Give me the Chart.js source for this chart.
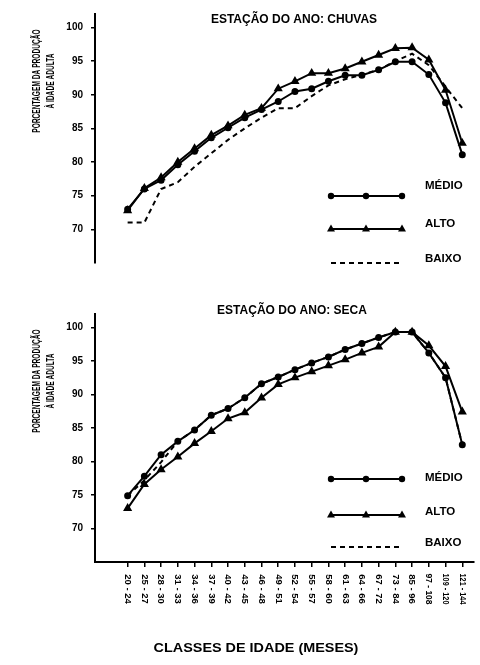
<!DOCTYPE html>
<html>
<head>
<meta charset="utf-8">
<script src="https://cdn.jsdelivr.net/npm/chart.js@4"></script>
<style>
html, body { margin: 0; padding: 0; background: #fff; }
#wrap { position: relative; width: 480px; height: 665px; overflow: hidden; }
#c1 { position: absolute; left: 0; top: 0; }
#c2 { position: absolute; left: 0; top: 300px; }
</style>
</head>
<body>
<div id="wrap">
  <canvas id="c1" width="480" height="300" style="width:480px;height:300px"></canvas>
  <canvas id="c2" width="480" height="365" style="width:480px;height:365px"></canvas>
</div>
<script>
// classes de idade (meses)
const classes = ["20 - 24", "25 - 27", "28 - 30", "31 - 33", "34 - 36", "37 - 39", "40 - 42",
  "43 - 45", "46 - 48", "49 - 51", "52 - 54", "55 - 57", "58 - 60", "61 - 63", "64 - 66",
  "67 - 72", "73 - 84", "85 - 96", "97 - 108", "109 - 120", "121 - 144"];
const yTicks = [70, 75, 80, 85, 90, 95, 100];

// estação chuvosa
const chuvasMedio = [73.0, 76.0, 77.3, 79.6, 81.6, 83.6, 85.1, 86.6, 87.8, 89.0, 90.5, 90.9, 92.0, 92.9, 92.9, 93.7, 94.9, 94.9, 93.0, 88.8, 81.1];
const chuvasAlto  = [72.8, 76.1, 77.7, 80.0, 82.0, 84.0, 85.4, 87.0, 88.0, 90.9, 92.0, 93.2, 93.2, 93.9, 94.9, 95.9, 96.9, 97.0, 95.2, 90.7, 82.8];
const chuvasBaixo = [71.0, 71.0, 76.0, 77.0, 79.3, 81.3, 83.3, 85.0, 86.6, 88.0, 88.0, 89.8, 91.4, 92.3, 93.0, 93.7, 95.0, 96.1, 94.4, 91.2, 88.0];

// estação seca
const secaMedio = [74.9, 77.8, 81.0, 83.0, 84.7, 86.9, 87.9, 89.5, 91.6, 92.6, 93.7, 94.7, 95.6, 96.7, 97.6, 98.5, 99.3, 99.3, 96.2, 92.5, 82.5];
const secaAlto  = [73.0, 76.6, 78.8, 80.7, 82.7, 84.5, 86.4, 87.3, 89.5, 91.5, 92.5, 93.4, 94.3, 95.2, 96.2, 97.1, 99.3, 99.3, 97.3, 94.2, 87.4];
const secaBaixo = [74.9, 77.2, 79.9, 83.0, 84.7, 86.9, 87.9, 89.5, 91.6, 92.6, 93.7, 94.7, 95.6, 96.7, 97.6, 98.5, 99.3, 99.3, 96.2, 92.5, 82.5];

const FONT = "'Liberation Sans', Arial, Helvetica, sans-serif";

function pts(arr) {
  return arr.map((v, i) => ({ x: i, y: v }));
}

function makeDatasets(medio, alto, baixo) {
  return [
    { label: "BAIXO", data: pts(baixo), borderColor: "#000", borderWidth: 2, borderDash: [5, 4], pointRadius: 0, fill: false },
    { label: "ALTO", data: pts(alto), borderColor: "#000", borderWidth: 2, pointStyle: "triangle", pointRadius: 3.3,
      pointBackgroundColor: "#000", pointBorderColor: "#000", fill: false },
    { label: "MÉDIO", data: pts(medio), borderColor: "#000", borderWidth: 2, pointStyle: "circle", pointRadius: 2.5,
      pointBackgroundColor: "#000", pointBorderColor: "#000", fill: false }
  ];
}

function text(ctx, s, x, y, size, opt) {
  opt = opt || {};
  ctx.save();
  ctx.translate(x, y);
  if (opt.rot) ctx.rotate(opt.rot);
  if (opt.sx) ctx.scale(opt.sx, 1);
  ctx.font = "bold " + size + "px " + FONT;
  ctx.fillStyle = "#000";
  ctx.textAlign = opt.align || "center";
  ctx.textBaseline = "middle";
  if (opt.maxW) ctx.fillText(s, 0, 0, opt.maxW); else ctx.fillText(s, 0, 0);
  ctx.restore();
}

// legenda desenhada à mão, como no original
function drawLegend(ctx, rows) {
  ctx.save();
  ctx.strokeStyle = "#000";
  ctx.fillStyle = "#000";
  ctx.lineWidth = 2;
  rows.forEach(r => {
    ctx.setLineDash(r.dash ? [5, 4] : []);
    ctx.beginPath();
    ctx.moveTo(331, r.ly);
    ctx.lineTo(402, r.ly);
    ctx.stroke();
    ctx.setLineDash([]);
    if (r.mark) {
      [331, 366, 402].forEach(mx => {
        ctx.beginPath();
        if (r.mark === "circle") {
          ctx.arc(mx, r.ly, 3.2, 0, Math.PI * 2);
        } else {
          ctx.moveTo(mx, r.ly - 4.5);
          ctx.lineTo(mx + 4, r.ly + 2.5);
          ctx.lineTo(mx - 4, r.ly + 2.5);
          ctx.closePath();
        }
        ctx.fill();
      });
    }
    text(ctx, r.label, 425, r.ty, 11.5, { align: "left" });
  });
  ctx.restore();
}

function yTitle(ctx) {
  text(ctx, "PORCENTAGEM DA PRODUÇÃO", 37, 81, 10.5, { rot: -Math.PI / 2, sx: 0.63 });
  text(ctx, "À IDADE ADULTA", 51, 81, 10.5, { rot: -Math.PI / 2, sx: 0.63 });
}

function makeOptions(showX, padding) {
  return {
    responsive: false,
    animation: false,
    layout: { padding: padding },
    plugins: { legend: { display: false }, tooltip: { enabled: false } },
    scales: {
      x: {
        type: "linear",
        display: showX,
        min: -1.95,
        max: 20.7,
        afterBuildTicks: s => { s.ticks = classes.map((c, i) => ({ value: i })); },
        afterFit: s => { if (showX) s.height = 103; },
        ticks: { display: false },
        grid: { drawOnChartArea: false, tickLength: 5, color: "#000", lineWidth: 1.5 },
        border: { color: "#000", width: 2 }
      },
      y: {
        min: 65,
        max: 102,
        afterBuildTicks: s => { s.ticks = yTicks.map(v => ({ value: v })); },
        afterFit: s => { s.width = 95; },
        ticks: { color: "#000", padding: 8, font: { family: FONT, size: 10, weight: "bold" } },
        grid: { drawOnChartArea: false, tickLength: 4, color: "#000", lineWidth: 1.5 },
        border: { color: "#000", width: 2 }
      }
    }
  };
}

new Chart(document.getElementById("c1"), {
  type: "line",
  data: { datasets: makeDatasets(chuvasMedio, chuvasAlto, chuvasBaixo) },
  options: makeOptions(false, { top: 12, bottom: 37, right: 2, left: 0 }),
  plugins: [{
    id: "decor1",
    afterDraw(chart) {
      const ctx = chart.ctx;
      text(ctx, "ESTAÇÃO DO ANO: CHUVAS", 294, 20, 12);
      yTitle(ctx);
      drawLegend(ctx, [
        { label: "MÉDIO", ty: 186, ly: 196, mark: "circle" },
        { label: "ALTO", ty: 224, ly: 229, mark: "triangle" },
        { label: "BAIXO", ty: 259, ly: 263, dash: true }
      ]);
    }
  }]
});

new Chart(document.getElementById("c2"), {
  type: "line",
  data: { datasets: makeDatasets(secaMedio, secaAlto, secaBaixo) },
  options: makeOptions(true, { top: 10, bottom: 0, right: 2, left: 0 }),
  plugins: [{
    id: "decor2",
    afterDraw(chart) {
      const ctx = chart.ctx;
      const xs = chart.scales.x;
      text(ctx, "ESTAÇÃO DO ANO: SECA", 292, 11, 12);
      yTitle(ctx);
      drawLegend(ctx, [
        { label: "MÉDIO", ty: 178, ly: 179, mark: "circle" },
        { label: "ALTO", ty: 212, ly: 215, mark: "triangle" },
        { label: "BAIXO", ty: 243, ly: 247, dash: true }
      ]);
      // rótulos das classes, girados de cima para baixo
      classes.forEach((c, i) => {
        text(ctx, c, xs.getPixelForValue(i), 289, 9.5, { rot: Math.PI / 2, maxW: 31 });
      });
      text(ctx, "CLASSES DE IDADE (MESES)", 256, 349, 12, { sx: 1.2 });
    }
  }]
});
</script>
</body>
</html>
